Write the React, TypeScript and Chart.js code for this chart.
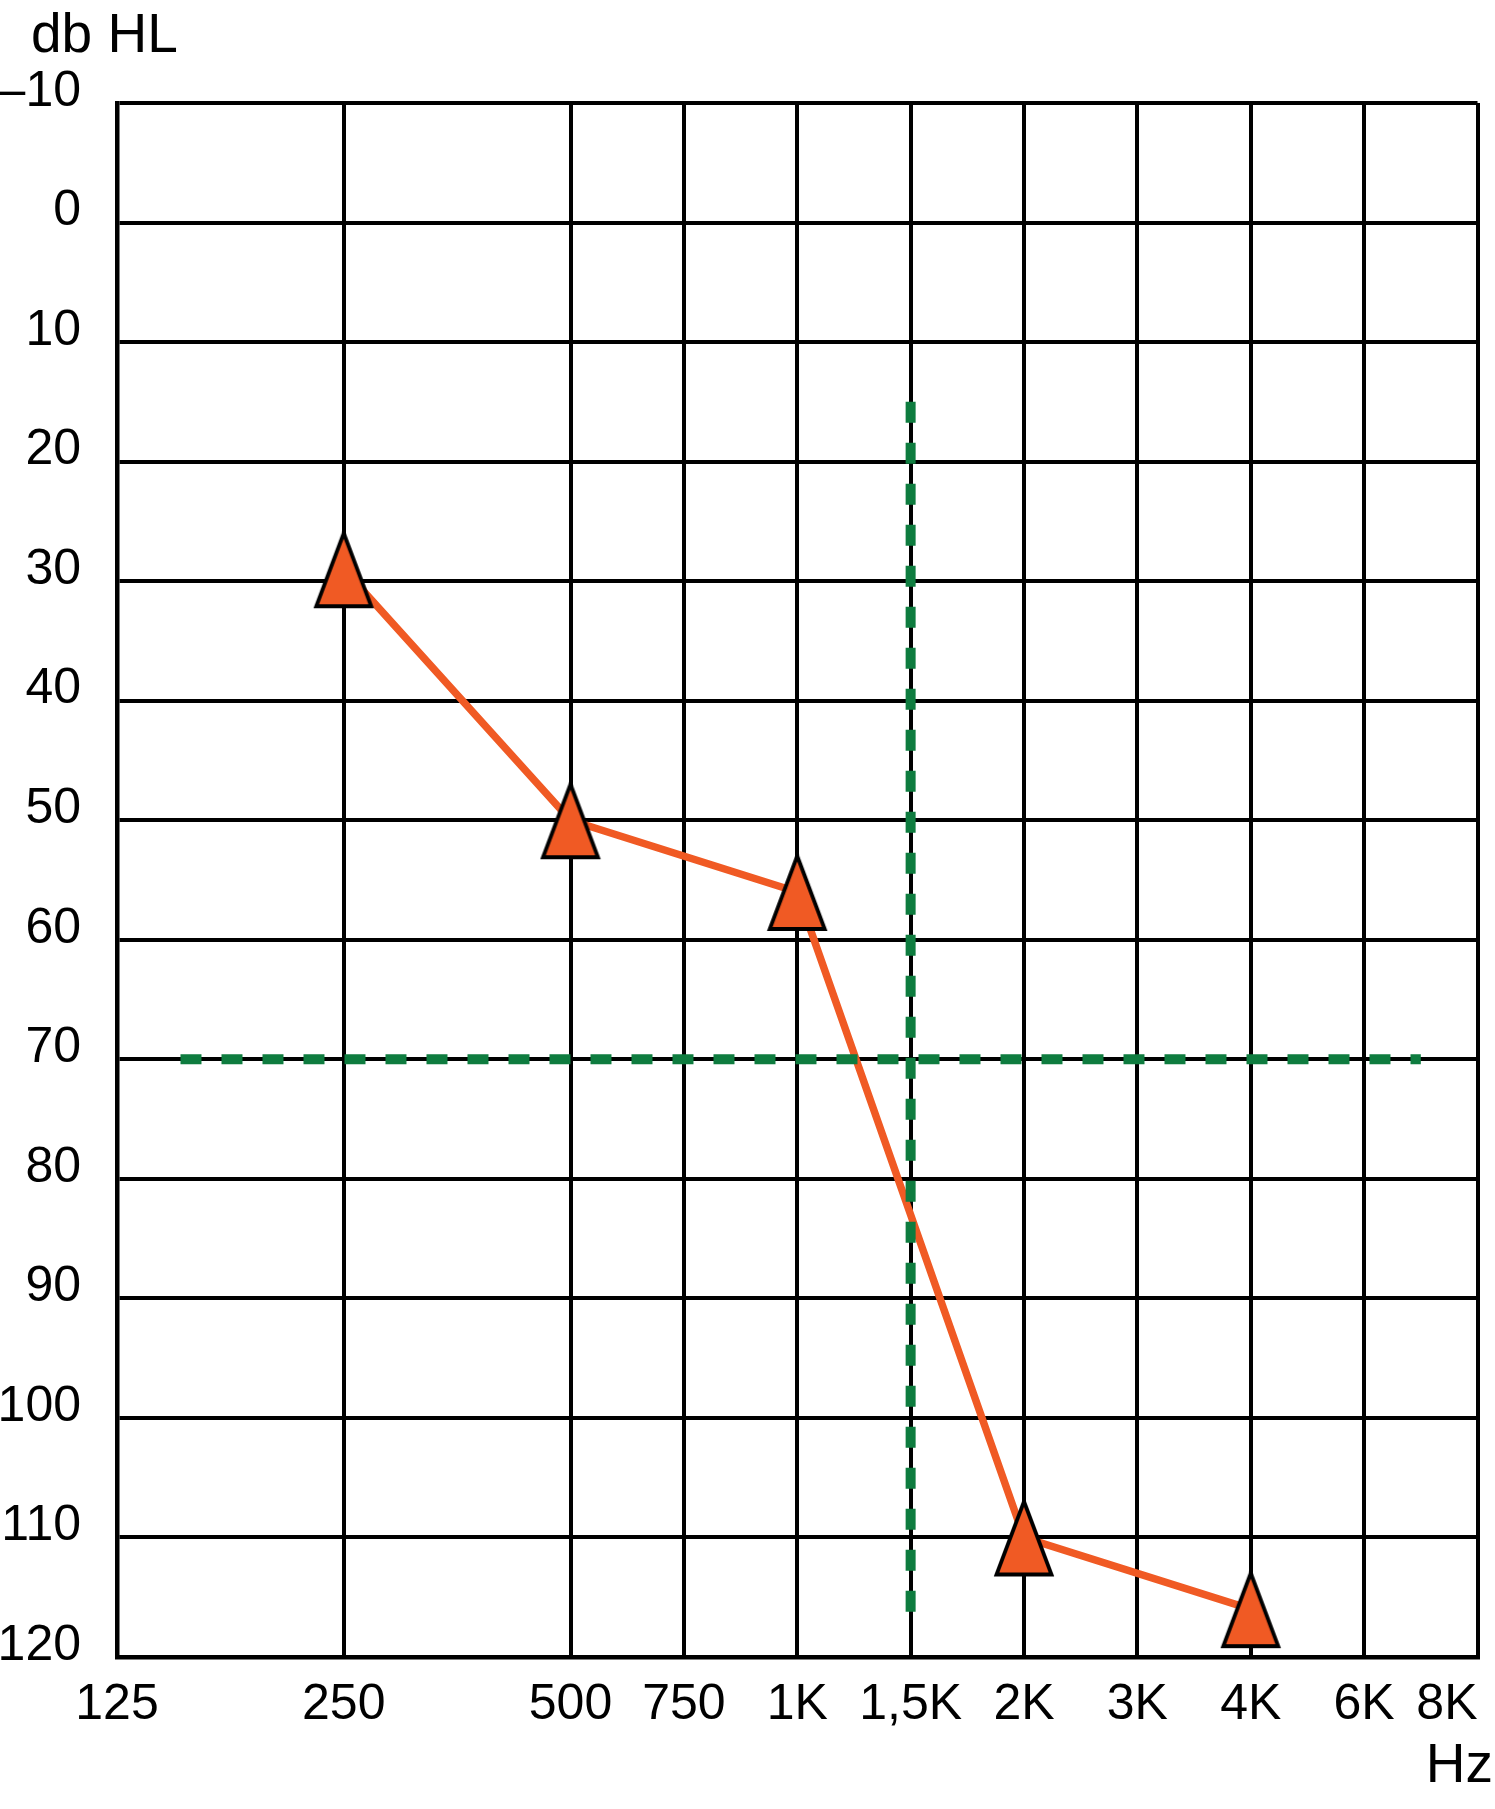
import { useEffect, useRef } from 'react';
import { Chart, registerables } from 'chart.js';

Chart.register(...registerables);

// ---- data ----
const tickFrequencies = [125, 250, 500, 750, 1000, 1500, 2000, 3000, 4000, 6000, 8000];
const tickLabels = ['125', '250', '500', '750', '1K', '1,5K', '2K', '3K', '4K', '6K', '8K'];
const dbTickValues = [-10, 0, 10, 20, 30, 40, 50, 60, 70, 80, 90, 100, 110, 120];

const testFrequencies = [250, 500, 1000, 2000, 4000];
const hearingLevels = [29, 50, 56, 110, 116];

const referenceLevelDb = 70;
const referenceLevelFreqSpan = [160, 7000];
const referenceFrequency = 1500;
const referenceFrequencyDbSpan = [15, 117.5];

const yAxisTitle = 'db HL';
const xAxisTitle = 'Hz';

// ---- audiogram frequency axis: octaves equally spaced, intermediate frequencies halfway ----
function octavePosition(f: number): number {
  const n = Math.floor(Math.log2(f / 125) + 1e-9);
  const base = 125 * Math.pow(2, n);
  return Math.abs(f - base) < 1e-6 ? n : n + 0.5;
}
const tickPositions = tickFrequencies.map(octavePosition);
function toAxis(f: number): number {
  for (let i = 0; i < tickFrequencies.length - 1; i++) {
    const f0 = tickFrequencies[i];
    const f1 = tickFrequencies[i + 1];
    if (f >= f0 && f <= f1) {
      const t = (f - f0) / (f1 - f0);
      return tickPositions[i] + t * (tickPositions[i + 1] - tickPositions[i]);
    }
  }
  return f < tickFrequencies[0] ? tickPositions[0] : tickPositions[tickPositions.length - 1];
}

const ORANGE = '#F05A24';
const GREEN = '#0E7C3F';
const FONT = '"Liberation Sans", Arial, Helvetica, sans-serif';

function makeTriangle(): HTMLCanvasElement {
  const c = document.createElement('canvas');
  c.width = 62;
  c.height = 82;
  const g = c.getContext('2d')!;
  g.beginPath();
  g.moveTo(31, 5);
  g.lineTo(58.5, 78);
  g.lineTo(3.5, 78);
  g.closePath();
  g.fillStyle = ORANGE;
  g.fill();
  g.lineWidth = 3.8;
  g.lineJoin = 'miter';
  g.strokeStyle = '#000';
  g.stroke();
  return c;
}

export default function App() {
  const canvasRef = useRef<HTMLCanvasElement | null>(null);

  useEffect(() => {
    const canvas = canvasRef.current;
    if (!canvas) return;
    const triangle = makeTriangle();

    const titlesPlugin = {
      id: 'audiogramTitles',
      beforeDraw(chart: any) {
        const items = chart.scales.x.getLabelItems(chart.chartArea);
        if (items && items.length) items[items.length - 1].options.textAlign = 'right';
      },
      afterDraw(chart: any) {
        const ctx = chart.ctx;
        ctx.save();
        ctx.fillStyle = '#000';
        ctx.font = `55px ${FONT}`;
        ctx.textBaseline = 'alphabetic';
        ctx.textAlign = 'left';
        ctx.fillText(yAxisTitle, 31, 52);
        ctx.textAlign = 'right';
        ctx.fillText(xAxisTitle, chart.width - 2, 1782);
        ctx.restore();
      },
    };

    const chart = new Chart(canvas, {
      type: 'line',
      data: {
        datasets: [
          {
            label: 'ref level',
            data: referenceLevelFreqSpan.map((f) => ({ x: toAxis(f), y: referenceLevelDb })),
            borderColor: GREEN,
            borderWidth: 10,
            borderDash: [21, 20],
            borderCapStyle: 'butt',
            pointRadius: 0,
            order: 0,
          },
          {
            label: 'ref frequency',
            data: referenceFrequencyDbSpan.map((d) => ({ x: toAxis(referenceFrequency), y: d })),
            borderColor: GREEN,
            borderWidth: 10,
            borderDash: [21, 20],
            borderCapStyle: 'butt',
            pointRadius: 0,
            order: 0,
          },
          {
            label: 'threshold',
            data: testFrequencies.map((f, i) => ({ x: toAxis(f), y: hearingLevels[i] })),
            borderColor: ORANGE,
            borderWidth: 7.5,
            pointStyle: triangle as any,
            pointRadius: 10,
            tension: 0,
            order: 1,
          },
        ],
      },
      options: {
        animation: false,
        responsive: false,
        events: [],
        layout: { padding: { top: 103, right: 9, bottom: 0, left: 0 } },
        plugins: { legend: { display: false }, tooltip: { enabled: false }, title: { display: false } },
        scales: {
          x: {
            type: 'linear',
            min: tickPositions[0],
            max: tickPositions[tickPositions.length - 1],
            afterBuildTicks: (scale: any) => {
              scale.ticks = tickPositions.map((v) => ({ value: v }));
            },
            afterFit: (scale: any) => {
              scale.height = 152;
              scale.paddingRight = 0;
              scale.paddingLeft = 0;
            },
            grid: { color: '#000', lineWidth: 4, drawTicks: false },
            border: { display: true, color: '#000', width: 4.5 },
            ticks: {
              autoSkip: false,
              maxRotation: 0,
              minRotation: 0,
              padding: 18,
              color: '#000',
              font: { family: FONT, size: 50 },
              callback: (_v: any, i: number) => tickLabels[i],
            },
          },
          y: {
            type: 'linear',
            reverse: true,
            min: dbTickValues[0],
            max: dbTickValues[dbTickValues.length - 1],
            afterBuildTicks: (scale: any) => {
              scale.ticks = dbTickValues.map((v) => ({ value: v }));
            },
            afterFit: (scale: any) => {
              scale.width = 117;
            },
            grid: { color: '#000', lineWidth: 4, drawTicks: false },
            border: { display: true, color: '#000', width: 4.5 },
            ticks: {
              autoSkip: false,
              padding: 36,
              labelOffset: -11,
              color: '#000',
              font: { family: FONT, size: 50 },
              callback: (v: any) => (Number(v) < 0 ? '\u2013' + Math.abs(Number(v)) : String(v)),
            },
          },
        },
      },
      plugins: [titlesPlugin],
    } as any);

    return () => chart.destroy();
  }, []);

  return (
    <div style={{ position: 'absolute', left: 0, top: 0, width: 1495, height: 1809, background: '#fff' }}>
      <canvas ref={canvasRef} width={1495} height={1809} style={{ display: 'block' }} />
    </div>
  );
}
